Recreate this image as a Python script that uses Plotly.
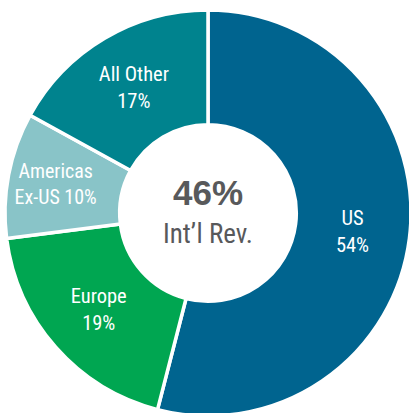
import plotly.graph_objects as go

labels = ["US", "Europe", "Americas", "All Other"]
label_suffix = ["<br>", "<br>", "<br>Ex-US ", "<br>"]
values = [54, 19, 10, 17]
colors = ["#00648f", "#00a651", "#89c4c8", "#00838e"]
center_value = "46%"
center_label = "Int\u2019l Rev."

texts = [f"{l}{s}{v}%" for l, s, v in zip(labels, label_suffix, values)]

NARROW = "Roboto Condensed, DejaVu Sans Condensed, sans-serif"
W, H = 416, 426
fig = go.Figure(go.Pie(
    labels=labels, values=values, sort=False, direction="clockwise", rotation=0,
    hole=0.435,
    marker=dict(colors=colors, line=dict(color="white", width=3.5)),
    text=texts, texttemplate="%{text}",
    textposition="inside", insidetextorientation="horizontal",
    textfont=dict(family=NARROW, size=20.5, color="white"),
    showlegend=False, hoverinfo="skip",
    domain=dict(x=[5 / W, 411 / W], y=[0, 1]),
))
fig.add_annotation(text=f"<b>{center_value}</b>", x=0.5, y=1 - 192 / H, xref="paper", yref="paper",
                   showarrow=False, font=dict(family="Liberation Sans, Arial, sans-serif", size=35, color="#58595b"))
fig.add_annotation(text=center_label, x=0.5, y=1 - 234 / H, xref="paper", yref="paper",
                   showarrow=False, font=dict(family=NARROW, size=27, color="#58595b"))
fig.update_layout(width=W, height=H, margin=dict(l=0, r=0, t=0, b=0),
                  paper_bgcolor="white", plot_bgcolor="white")
fig.write_html("out.html", config={"displayModeBar": False}, post_script=(
    "document.body.style.margin='0';document.body.style.overflow='hidden';"
    "document.documentElement.style.overflow='hidden';"))
